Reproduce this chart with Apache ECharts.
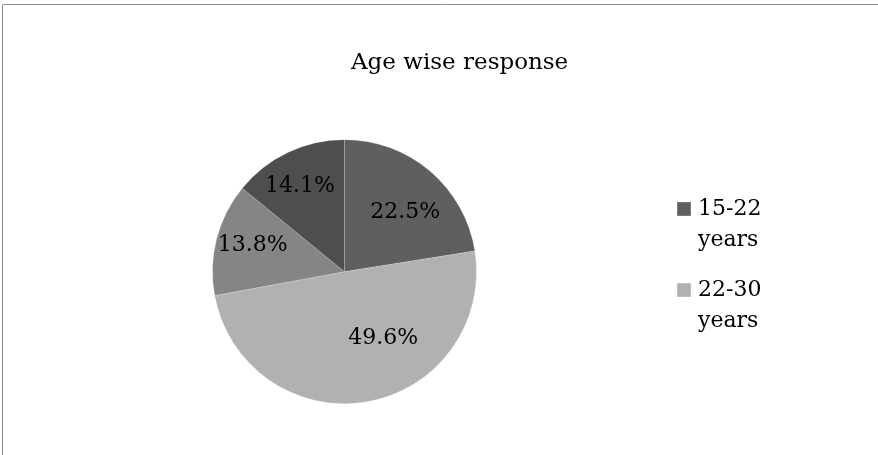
<!DOCTYPE html>
<html>
<head>
<meta charset="utf-8">
<script src="https://cdn.jsdelivr.net/npm/echarts@6/dist/echarts.min.js"></script>
<style>
  html, body { margin: 0; padding: 0; background: #fff; }
  #chart { width: 878px; height: 455px; }
</style>
</head>
<body>
<div id="chart"></div>
<script>
// Age groups of respondents and their share of responses (%)
const categories = ['15-22 years', '22-30 years', '30-40 years', 'Above 40 years'];
const shares = [22.5, 49.6, 13.8, 14.1];
const sliceColors = ['#5f5f5f', '#b1b1b1', '#858585', '#4e4e4e'];
const legendNames = ['15-22 years', '22-30 years'];

const FONT = 'DejaVu Serif';

// Nudges for the percentage labels inside each slice
const labelShift = [[16, -7], [27, -1], [-25, -9], [-15, -23]];

const chart = echarts.init(document.getElementById('chart'), null, { renderer: 'canvas' });

chart.setOption({
  backgroundColor: '#ffffff',
  animation: false,
  graphic: [{
    type: 'rect',
    silent: true,
    z: -10,
    shape: { x: 2.5, y: 4.5, width: 900, height: 500 },
    style: { fill: 'none', stroke: '#8f8f8f', lineWidth: 1 }
  }],
  title: {
    text: 'Age wise response',
    left: 346,
    top: 47,
    textStyle: { fontFamily: FONT, fontSize: 23, fontWeight: 'normal', color: '#000' }
  },
  legend: {
    data: legendNames,
    orient: 'vertical',
    left: 671,
    top: 162,
    itemWidth: 14,
    itemHeight: 14,
    itemGap: -3,
    icon: 'rect',
    // a spacer line above keeps the swatch level with the first text line
    formatter: name => '{s| }\n{t|' + name.replace(' ', '}\n{t|') + '}',
    textStyle: {
      fontFamily: FONT,
      fontSize: 22,
      color: '#000',
      rich: {
        s: { fontSize: 22, lineHeight: 31 },
        t: { fontFamily: FONT, fontSize: 22, color: '#000', lineHeight: 31, padding: [0, 0, 0, 2] }
      }
    }
  },
  series: [{
    type: 'pie',
    center: [344.5, 271.7],
    radius: 132,
    startAngle: 90,
    clockwise: true,
    avoidLabelOverlap: false,
    data: categories.map((name, i) => ({
      name,
      value: shares[i],
      itemStyle: { color: sliceColors[i] }
    })),
    itemStyle: { borderColor: 'rgba(255,255,255,0.18)', borderWidth: 1 },
    label: {
      show: true,
      position: 'inside',
      formatter: p => p.value.toFixed(1) + '%',
      fontFamily: FONT,
      fontSize: 22,
      color: '#000'
    },
    labelLine: { show: false },
    labelLayout: p => ({ dx: labelShift[p.dataIndex][0], dy: labelShift[p.dataIndex][1] }),
    emphasis: { disabled: true }
  }]
});
</script>
</body>
</html>
